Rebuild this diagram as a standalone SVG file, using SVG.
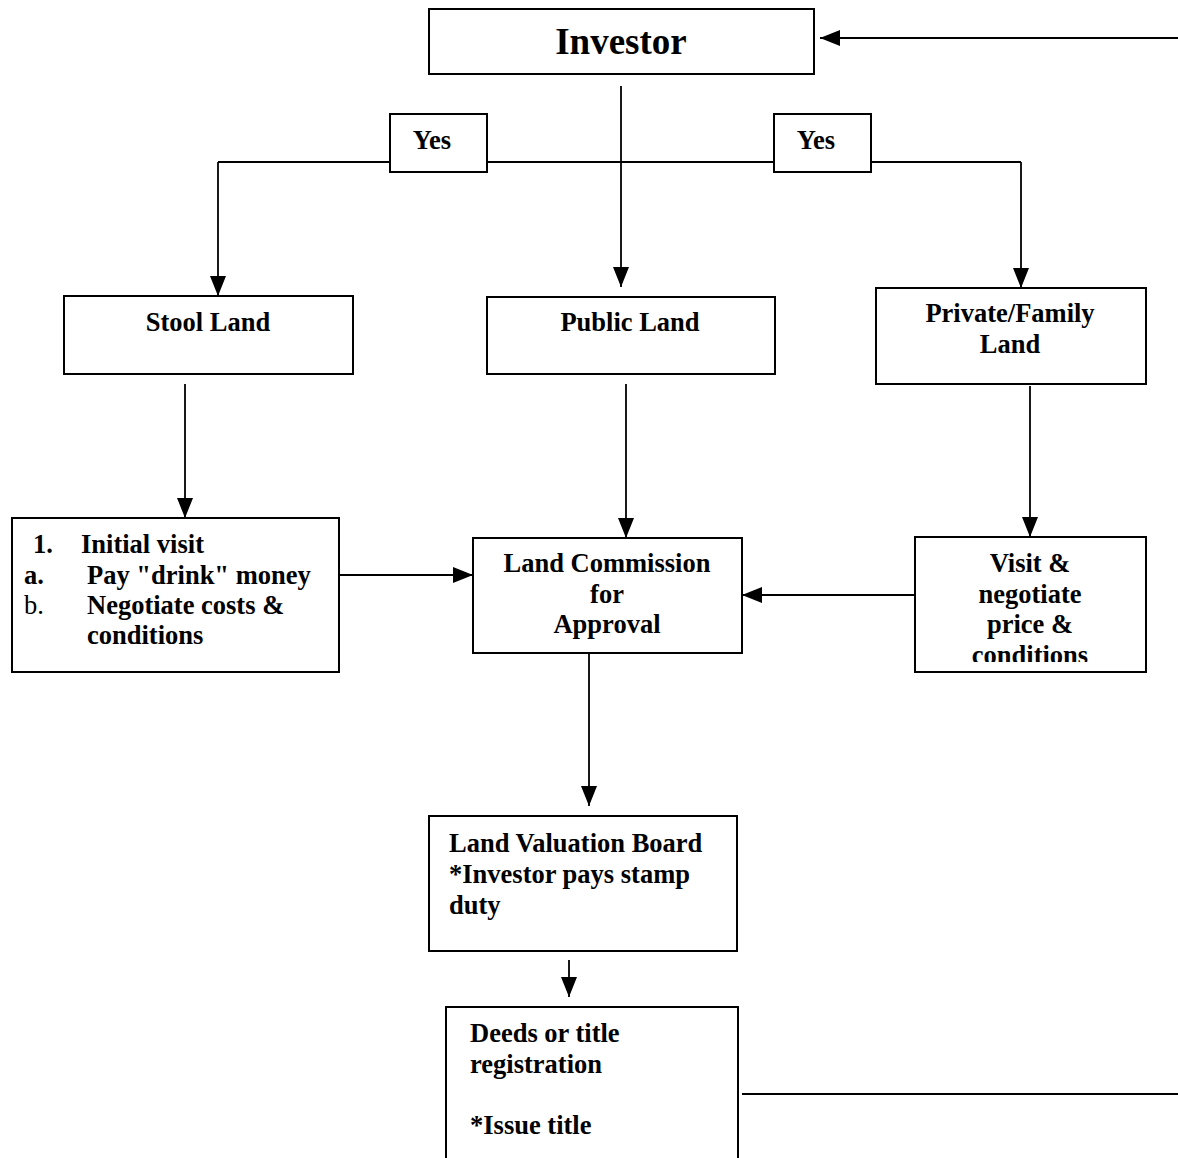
<svg xmlns="http://www.w3.org/2000/svg" width="1178" height="1158" viewBox="0 0 1178 1158">
<style>
.box{fill:#fff;stroke:#000;stroke-width:2}
.t{font-family:"Liberation Serif","Times New Roman",serif;font-weight:bold;font-size:26.5px;fill:#000}
.c{text-anchor:middle}
.ln{stroke:#000;stroke-width:1.8;fill:none}
</style>
<defs>
<marker id="ah" markerWidth="20" markerHeight="16" refX="20" refY="8" orient="auto" markerUnits="userSpaceOnUse">
<path d="M0,0 L20,8 L0,16 Z" fill="#000"/>
</marker>
<clipPath id="clipVisit"><rect x="915" y="537" width="231" height="125"/></clipPath>
</defs>
<rect width="1178" height="1158" fill="#fff"/>
<g id="connectors">
<line class="ln" x1="1178" y1="38" x2="820" y2="38" marker-end="url(#ah)"/>
<line class="ln" x1="621" y1="86" x2="621" y2="287" marker-end="url(#ah)"/>
<line class="ln" x1="218" y1="162" x2="390" y2="162"/>
<line class="ln" x1="487" y1="162" x2="774" y2="162"/>
<line class="ln" x1="871" y1="162" x2="1021" y2="162"/>
<line class="ln" x1="218" y1="162" x2="218" y2="296" marker-end="url(#ah)"/>
<line class="ln" x1="1021" y1="162" x2="1021" y2="288" marker-end="url(#ah)"/>
<line class="ln" x1="185" y1="384" x2="185" y2="518" marker-end="url(#ah)"/>
<line class="ln" x1="626" y1="384" x2="626" y2="538" marker-end="url(#ah)"/>
<line class="ln" x1="1030" y1="386" x2="1030" y2="537" marker-end="url(#ah)"/>
<line class="ln" x1="339" y1="575" x2="473" y2="575" marker-end="url(#ah)"/>
<line class="ln" x1="915" y1="595" x2="742" y2="595" marker-end="url(#ah)"/>
<line class="ln" x1="589" y1="653" x2="589" y2="806" marker-end="url(#ah)"/>
<line class="ln" x1="569" y1="960" x2="569" y2="997" marker-end="url(#ah)"/>
<line class="ln" x1="742" y1="1094" x2="1178" y2="1094"/>
</g>
<g id="investor">
<rect class="box" x="429" y="9" width="385" height="65"/>
<text class="t c" x="621" y="54" style="font-size:37px">Investor</text>
</g>
<g id="yes-left">
<rect class="box" x="390" y="114" width="97" height="58"/>
<text class="t c" x="432" y="149">Yes</text>
</g>
<g id="yes-right">
<rect class="box" x="774" y="114" width="97" height="58"/>
<text class="t c" x="816" y="149">Yes</text>
</g>
<g id="stool-land">
<rect class="box" x="64" y="296" width="289" height="78"/>
<text class="t c" x="208" y="331">Stool Land</text>
</g>
<g id="public-land">
<rect class="box" x="487" y="297" width="288" height="77"/>
<text class="t c" x="630" y="331">Public Land</text>
</g>
<g id="private-land">
<rect class="box" x="876" y="288" width="270" height="96"/>
<text class="t c" x="1010" y="322">Private/Family</text>
<text class="t c" x="1010" y="353">Land</text>
</g>
<g id="initial-visit">
<rect class="box" x="12" y="518" width="327" height="154"/>
<text class="t" x="33" y="553">1.</text>
<text class="t" x="81" y="553">Initial visit</text>
<text class="t" x="24" y="584">a.</text>
<text class="t" x="87" y="584">Pay "drink" money</text>
<text class="t" x="24" y="614" style="font-weight:normal">b.</text>
<text class="t" x="87" y="614">Negotiate costs &amp;</text>
<text class="t" x="87" y="644">conditions</text>
</g>
<g id="land-commission">
<rect class="box" x="473" y="538" width="269" height="115"/>
<text class="t c" x="607" y="572">Land Commission</text>
<text class="t c" x="607" y="603">for</text>
<text class="t c" x="607" y="633">Approval</text>
</g>
<g id="visit-negotiate">
<rect class="box" x="915" y="537" width="231" height="135"/>
<g clip-path="url(#clipVisit)">
<text class="t c" x="1030" y="572">Visit &amp;</text>
<text class="t c" x="1030" y="603">negotiate</text>
<text class="t c" x="1030" y="633">price &amp;</text>
<text class="t c" x="1030" y="664">conditions</text>
</g>
</g>
<g id="land-valuation">
<rect class="box" x="429" y="816" width="308" height="135"/>
<text class="t" x="449" y="852">Land Valuation Board</text>
<text class="t" x="449" y="883">*Investor pays stamp</text>
<text class="t" x="449" y="914">duty</text>
</g>
<g id="deeds">
<rect class="box" x="446" y="1007" width="292" height="160"/>
<text class="t" x="470" y="1042">Deeds or title</text>
<text class="t" x="470" y="1073">registration</text>
<text class="t" x="470" y="1134">*Issue title</text>
</g>
</svg>
